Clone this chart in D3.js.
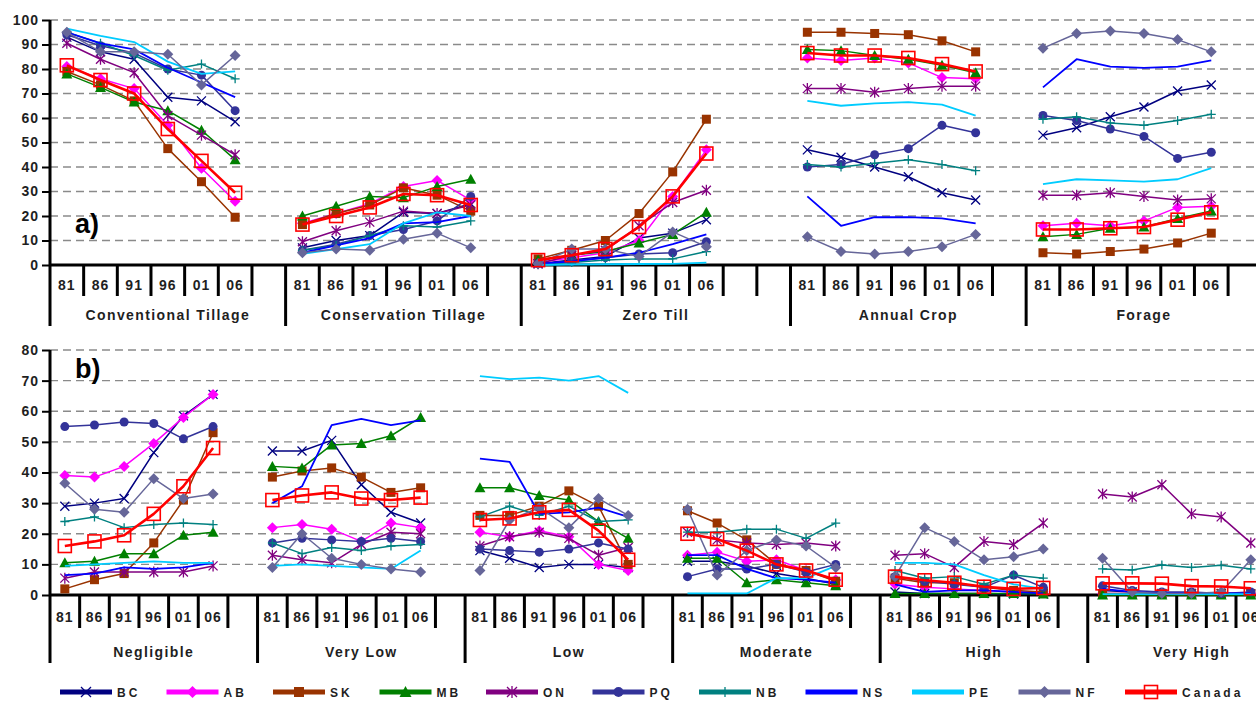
<!DOCTYPE html>
<html><head><meta charset="utf-8">
<script src="https://cdn.jsdelivr.net/npm/d3@7"></script>
<style>body{margin:0;background:#fff} svg{display:block} text{font-family:"Liberation Sans",Arial,sans-serif;}</style>
</head><body><svg id="c" width="1256" height="701"></svg>
<script>
const years = ["81","86","91","96","01","06"];
const groupsA = ["Conventional Tillage","Conservation Tillage","Zero Till","Annual Crop","Forage"];
const slotsA = [7,7,8,7,7];
const groupsB = ["Negligible","Very Low","Low","Moderate","High","Very High"];
const slotsB = [7,7,7,7,7,7];
const ticksA = [0,10,20,30,40,50,60,70,80,90,100];
const ticksB = [0,10,20,30,40,50,60,70,80];
const provinces = ["BC","AB","SK","MB","ON","PQ","NB","NS","PE","NF","Canada"];
const colors = ["#000080","#FF00FF","#993300","#008000","#800080","#333399","#008080","#0000FF","#00CCFF","#666699","#FF0000"];
const markers = ["x","diamond","square","triangle","asterisk","circle","plus","none","none","diamond","open"];

// Panel a) values: Conventional, Conservation, Zero Till, Annual Crop, Forage (6 census years each)
const aBC = [93,87,84,68.5,67,58.5, 7,10,12,21.5,21,25, 0.5,2,3.5,11,13,18.5, 47,44,40,36,29.5,26.5, 53,56,60.5,64.5,71,73.5];
const aAB = [81,76,72,57,39.5,26, 17,21,25,32,34.5,26.5, 1,3,5,10,28,47, 84.5,83.5,84.5,82.5,76.5,76, 16,17,16,18,23.5,24];
const aSK = [79,73.5,67,47.5,34,19.5, 16.5,21,24.5,31.5,28.5,22, 2.5,6,10,21,38,59.5, 95,95,94.5,94,91.5,87, 5,4.5,5.5,6.5,9,13];
const aMB = [78,72.5,66.5,63,55,43, 20,24,28,27.5,32,35, 2,4,5.5,9,12.5,21.5, 88,87.5,85.5,84,81.5,78.5, 11.5,12.5,15,15.5,19,22];
const aON = [90.5,84,78.5,61,53,45, 9.5,14,17.5,22,21,24.5, 0.5,4,6,16,25.5,30.5, 72,72,70.5,72,73,73, 28.5,28.5,29.5,28,26.5,27];
const aPQ = [94,89.5,86.5,80,77.5,63, 6,8.5,12,14.5,18,28, 0.5,1.5,3,4.5,5,9.5, 40,41,45,47.5,57,54, 61,59,55.5,52.5,43.5,46];
const aNB = [95,90.5,85.5,79.5,82,76, 6,8,12,16,15.5,18, 0.2,1,2,2.5,2.5,5.5, 41,40,41.5,43,41,38.5, 59.5,60.5,58,57,59,61.5];
const aNS = [95,90.5,88,80.5,74.5,68.5, 5,8,11,17,17.5,20, 0.5,1.5,3,5,8.5,12.5, 28,16,19.5,19.5,19,17, 72.5,84,81,80.5,81,83.5];
const aPE = [96.5,93.5,91,83,78,79, 4.5,6.5,8.5,17,21.5,20, 0,0.2,0.3,0.4,0.5,1, 67,65,66,66.5,65.5,61, 33,35,34.5,34,35,39.5];
const aNF = [95,87,87,86,73.5,85.5, 5,6.5,6,10.5,13,7, 0.5,6.5,6.5,3.5,13.5,7.5, 11.5,5.5,4.5,5.5,7.5,12.5, 88.5,94.5,95.5,94.5,92,87];
const aCA = [81.5,75.5,70,55.5,42.5,29.5, 16.5,20,23.5,29,28.5,24.5, 2,4,6.5,15.5,28,45.5, 86.5,85.5,85.5,84.5,82,79, 14.5,14.5,15,15.5,18.5,21.5];

// Panel b) values: Negligible, Very Low, Low, Moderate, High, Very High
const bBC = [29,30,31.5,46.5,58.5,65.5, 47,47,50.5,36,27,23.5, 14.5,12,9,10,10,9, 11,11,9.5,7,5.5,3.5, 1,0.5,0.5,0.5,0.3,0.3, 1.5,1,0.5,0.5,0.5,0.3];
const bAB = [39,38.5,42,49.5,58,65.5, 22,23,21.5,17.5,23.5,22, 20.5,19,21,19,10,8, 13,14,11,11.5,8,5, 3.5,2.5,2,1.5,1,1, 0.5,0.5,0.5,0.5,0.5,0.5];
const bSK = [2,5,7,17,31,53, 38.5,40.5,41.5,38.5,33.5,35, 26,26,29,34,29,10, 27.5,23.5,18,10,8,4.5, 5.5,4,4,2.5,1.5,1, 0.5,0.5,0.5,0.5,0.5,0.5];
const bMB = [10.5,11,13.5,13.5,19.5,20.5, 42,41.5,49,49.5,52,58, 35,35,32.5,31,24,18.5, 12,12,4,5,4,3, 0.5,0.5,0.5,0.5,0.5,0.3, 0,0,0,0,0,0];
const bON = [5.5,7.5,7.5,7.5,7.5,9.5, 13,11.5,10.5,16.5,20.5,20, 16,19,20.5,18.5,13,15.5, 20.5,18,17,16.5,17,16, 13,13.5,9,17.5,16.5,23.5, 33,32,36,26.5,25.5,17];
const bPQ = [55,55.5,56.5,56,51,55, 17,18.5,18,17.5,18.5,17.5, 15,14.5,14,15,17,15, 6,8.5,8.5,10,7.5,10, 6,4.5,3.5,2.5,6.5,2.5, 3,1.5,1,1,0.5,1];
const bNB = [24,25.5,22,23,23.5,23, 17,13.5,15.5,14.5,16,16.5, 25.5,29,26,29,24,24.5, 20.5,20.5,21.5,21.5,18.5,23.5, 8,5.5,6,3.5,6.5,5.5, 8.5,8.2,9.8,9,9.7,8.5];
const bNS = [6.5,7,9,8.5,9,10.5, 30,35.5,55.5,57.5,55.5,57, 44.5,43.5,26.5,27,28.5,25.5, 13,13,8.5,5.5,5,4, 3.5,1,1.5,1.5,1,0.5, 2,1,0.5,0.5,0.5,0.5];
const bPE = [9.5,10,10.5,11,10.5,10.5, 9.5,10,9.5,9,8.5,14.5, 71.5,70.5,71,70,71.5,66, 0.5,0.5,0.5,5.5,5.5,9.5, 10.5,10.5,10,6.5,3.5,2, 0.3,0.3,0.3,0.3,0.3,0.3];
const bNF = [36.5,28,27,38,31.5,33, 9,20,12,10,8.5,7.5, 8,24.5,28.5,22,31.5,26, 28,6.5,14.5,18,16,9, 6,22,17.5,11.5,12.5,15, 12,1,0.5,0.5,1,11.5];
const bCA = [16,17.5,19.5,26.5,35.5,48, 31,32.5,33.5,31.5,31,31.8, 24.5,25,27,27.8,21,11.5, 20,18.3,14.5,10,8,5, 6,4.8,4,2.7,2,2.3, 3.8,3.8,3.7,2.9,2.8,2.2];

const seriesA = [aBC,aAB,aSK,aMB,aON,aPQ,aNB,aNS,aPE,aNF,aCA];
const seriesB = [bBC,bAB,bSK,bMB,bON,bPQ,bNB,bNS,bPE,bNF,bCA];

const svg = d3.select("#c");
const W = 1256;
const textCol = "#1f1f1f";

function drawMarker(g, type, color, x, y, s) {
  const h = s/2;
  if (type === "square") {
    g.append("rect").attr("x", x-h).attr("y", y-h).attr("width", s).attr("height", s).attr("fill", color);
  } else if (type === "open") {
    g.append("rect").attr("x", x-h-1).attr("y", y-h-1).attr("width", s+2).attr("height", s+2).attr("fill", "none").attr("stroke", color).attr("stroke-width", 1.6);
  } else if (type === "diamond") {
    g.append("path").attr("d", `M${x},${y-h-1}L${x+h+1},${y}L${x},${y+h+1}L${x-h-1},${y}Z`).attr("fill", color);
  } else if (type === "triangle") {
    g.append("path").attr("d", `M${x},${y-h-1}L${x+h+1},${y+h}L${x-h-1},${y+h}Z`).attr("fill", color);
  } else if (type === "circle") {
    g.append("circle").attr("cx", x).attr("cy", y).attr("r", h).attr("fill", color);
  } else if (type === "x") {
    g.append("path").attr("d", `M${x-h},${y-h}L${x+h},${y+h}M${x-h},${y+h}L${x+h},${y-h}`).attr("stroke", color).attr("stroke-width", 1.3).attr("fill","none");
  } else if (type === "asterisk") {
    g.append("path").attr("d", `M${x-h},${y-h}L${x+h},${y+h}M${x-h},${y+h}L${x+h},${y-h}M${x},${y-h-1}L${x},${y+h+1}`).attr("stroke", color).attr("stroke-width", 1.3).attr("fill","none");
  } else if (type === "plus") {
    g.append("path").attr("d", `M${x-h},${y}L${x+h},${y}M${x},${y-h}L${x},${y+h}`).attr("stroke", color).attr("stroke-width", 1.3).attr("fill","none");
  }
}

function drawPanel(opt) {
  const {groups, slots, series, yMax, ticks, yTop, yBot, x0, slotW, yearY, grpY, shortEnd, longEnd, label, labelY} = opt;
  const g = svg.append("g");
  const y = d3.scaleLinear().domain([0, yMax]).range([yBot, yTop]);
  const keys = [];
  groups.forEach((gr, gi) => { for (let k = 0; k < slots[gi]; k++) keys.push(gi + "-" + k); });
  const x = d3.scaleBand().domain(keys).range([x0, x0 + keys.length * slotW]).paddingInner(0).paddingOuter(0);
  const bw = x.bandwidth();

  g.selectAll(".grid").data(ticks.filter(t => t > 0)).enter().append("line")
    .attr("x1", x0).attr("x2", W).attr("y1", d => y(d)).attr("y2", d => y(d))
    .attr("stroke", "#8a8a8a").attr("stroke-width", 1.3).attr("stroke-dasharray", "8,5");

  const ax = g.append("g").attr("transform", `translate(${x0},0)`)
    .call(d3.axisLeft(y).tickValues(ticks).tickSize(8).tickPadding(3).tickFormat(d3.format("d")));
  ax.select(".domain").remove();
  ax.selectAll(".tick line").attr("stroke", "#000").attr("stroke-width", 2);
  ax.selectAll(".tick text").attr("font-size", 14).attr("font-weight", "bold").attr("fill", textCol)
    .attr("font-family", "Liberation Sans, Arial, sans-serif").style("letter-spacing", "1px");

  const bounds = [];
  let acc = 0;
  const groupStarts = new Set([0]);
  slots.forEach(n => { acc += n; groupStarts.add(acc); });
  for (let s = 0; s <= keys.length; s++) bounds.push({x: x0 + s * bw, long: groupStarts.has(s)});
  g.selectAll(".ct").data(bounds).enter().append("line")
    .attr("x1", d => d.x).attr("x2", d => d.x)
    .attr("y1", d => d.x === x0 ? yTop : yBot).attr("y2", d => d.long ? longEnd : shortEnd)
    .attr("stroke", "#000").attr("stroke-width", 3);
  g.append("line").attr("x1", x0).attr("x2", W).attr("y1", yBot).attr("y2", yBot).attr("stroke", "#000").attr("stroke-width", 3);

  groups.forEach((gr, gi) => {
    years.forEach((yr, yi) => {
      g.append("text").attr("x", x(gi + "-" + yi) + bw / 2).attr("y", yearY).attr("text-anchor", "middle")
        .attr("font-size", 14).attr("font-weight", "bold").attr("fill", textCol).style("letter-spacing", "1px").text(yr);
    });
    const xs = x(gi + "-0"), xe = x(gi + "-" + (slots[gi] - 1)) + bw;
    g.append("text").attr("x", (xs + xe) / 2).attr("y", grpY).attr("text-anchor", "middle")
      .attr("font-size", 14).attr("font-weight", "bold").attr("fill", textCol).style("letter-spacing", "1.4px").text(gr);
  });

  series.forEach((vals, si) => {
    const sg = g.append("g");
    const col = colors[si];
    const isCa = provinces[si] === "Canada";
    groups.forEach((gr, gi) => {
      const pts = years.map((yr, yi) => [x(gi + "-" + yi) + bw / 2, y(vals[gi * 6 + yi])]);
      sg.append("path").attr("d", d3.line()(pts)).attr("fill", "none").attr("stroke", col)
        .attr("stroke-width", isCa ? 2.6 : (markers[si] === "none" ? 1.8 : 1.5)).attr("stroke-linejoin", "round");
      pts.forEach(p => drawMarker(sg, markers[si], col, p[0], p[1], isCa ? 11 : 9));
    });
  });

  svg.append("text").attr("x", 75).attr("y", labelY).attr("font-family", "Liberation Serif, Times New Roman, serif")
    .attr("font-size", 27).attr("font-weight", "bold").attr("fill", "#000").text(label);
}

drawPanel({groups: groupsA, slots: slotsA, series: seriesA, yMax: 100, ticks: ticksA, yTop: 20, yBot: 265,
  x0: 50, slotW: 33.66, yearY: 290, grpY: 320, shortEnd: 296, longEnd: 326, label: "a)", labelY: 233});
drawPanel({groups: groupsB, slots: slotsB, series: seriesB, yMax: 80, ticks: ticksB, yTop: 350, yBot: 595,
  x0: 50, slotW: 29.65, yearY: 622, grpY: 657, shortEnd: 628, longEnd: 663, label: "b)", labelY: 378});

const lg = svg.append("g");
provinces.forEach((p, i) => {
  const lx = 60 + i * 106.5, ly = 692;
  const item = lg.append("g");
  item.append("line").attr("x1", lx).attr("x2", lx + 52).attr("y1", ly).attr("y2", ly).attr("stroke", colors[i]).attr("stroke-width", 5);
  drawMarker(item, markers[i], colors[i], lx + 26, ly, p === "Canada" ? 11 : 10);
  item.append("text").attr("x", lx + 57).attr("y", ly + 5).attr("font-size", 12).attr("font-weight", "bold")
    .attr("fill", textCol).style("letter-spacing", "3px").text(p);
});
</script></body></html>
